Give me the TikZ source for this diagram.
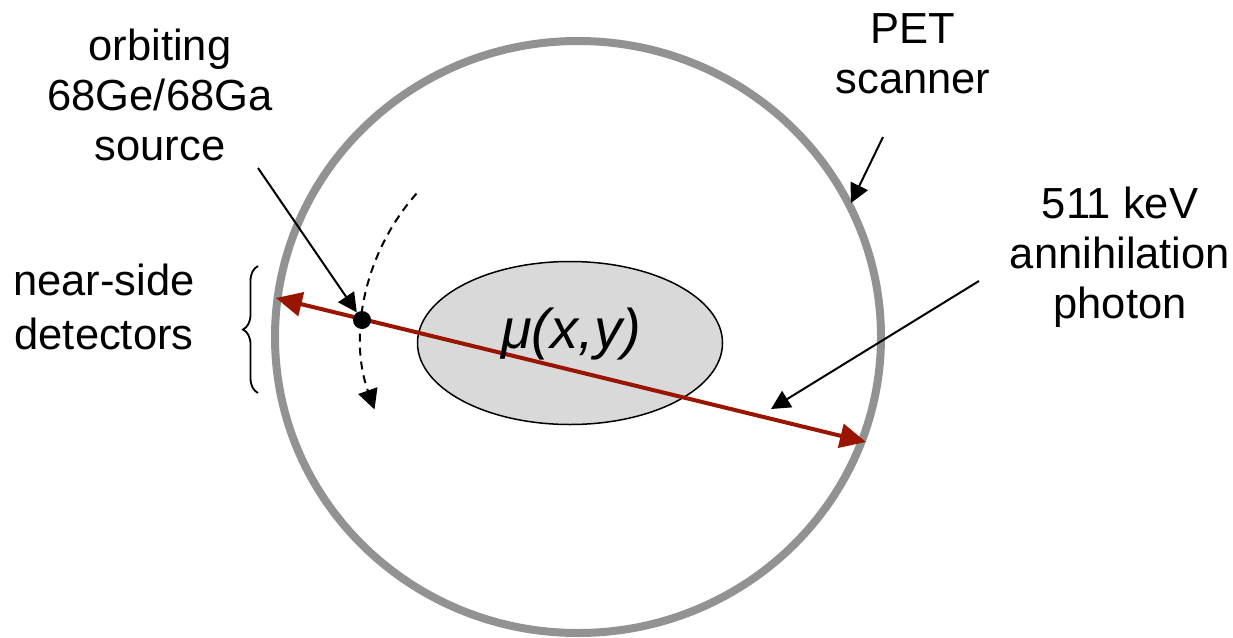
\documentclass[tikz,border=0pt]{standalone}
\usepackage{fontspec}
\setmainfont{Liberation Sans}
\usetikzlibrary{arrows.meta,decorations.pathreplacing,shapes.geometric}
\definecolor{ringgray}{HTML}{929292}
\definecolor{photonred}{HTML}{991500}
\definecolor{bodygray}{HTML}{D9D9D9}
\begin{document}
\begin{tikzpicture}[x=1pt,y=-1pt,
  lbl/.style={font=\fontsize{43.5}{50}\selectfont, align=center, inner sep=0pt, anchor=base},
  pointer/.style={line width=2pt, -{Triangle[length=19pt,width=19pt]}},
  ring/.style={draw=ringgray, line width=8pt},
  photon/.style={draw=photonred, line width=4pt, {Triangle[length=26pt,width=24pt]}-{Triangle[length=26pt,width=24pt]}},
  orbit/.style={line width=2pt, dash pattern=on 8pt off 6pt, -{Triangle[length=20pt,width=20pt]}},
  bracestyle/.style={line width=1.8pt, decorate, decoration={brace, amplitude=15pt}}]
\useasboundingbox (0,0) rectangle (1233,637);
% scanner ring
\coordinate (ctr) at (578,337);
\draw[ring] (ctr) ellipse [x radius=303pt, y radius=296pt];
% object
\node[ellipse, draw, line width=1.5pt, fill=bodygray, minimum width=305pt, minimum height=163pt, inner sep=0pt] (body) at (570,343) {};
% photon line
\coordinate (detL) at (276,298);
\coordinate (detR) at (866,442);
\draw[photon] (detL) -- (detR);
% orbit arc
\draw[orbit] ([shift={(221.6:216)}]ctr) arc[start angle=221.6, end angle=160.4, radius=216];
% source dot
\node[circle, fill=black, minimum size=18pt, inner sep=0pt] (src) at (362,320) {};
% mu label
\node[font=\fontsize{56}{60}\selectfont\itshape, inner sep=0pt, anchor=base] (mu) at (571,348) {μ(x,y)};
% labels (anchor = baseline of the last line)
\node[lbl] (srclbl) at (160,160) {orbiting\\68Ge/68Ga\\source};
\node[lbl] (petlbl) at (913,93) {PET\\scanner};
\node[lbl] (phlbl) at (1120,318) {511 keV\\annihilation\\photon};
\node[lbl, font=\fontsize{43.5}{54}\selectfont] (nslbl) at (104,349) {near-side\\detectors};
% pointers
\coordinate (srcTail) at (258,168);
\draw[pointer] (srcTail) -- (src);
\coordinate (petTail) at (883,137);
\coordinate (petTip) at (851,203);
\draw[pointer] (petTail) -- (petTip);
\coordinate (phTail) at (979,281);
\coordinate (phTip) at (771,409);
\draw[pointer] (phTail) -- (phTip);
% brace
\coordinate (braceBot) at (258,393);
\coordinate (braceTop) at (258,266);
\draw[bracestyle] (braceBot) -- (braceTop);
\end{tikzpicture}
\end{document}
